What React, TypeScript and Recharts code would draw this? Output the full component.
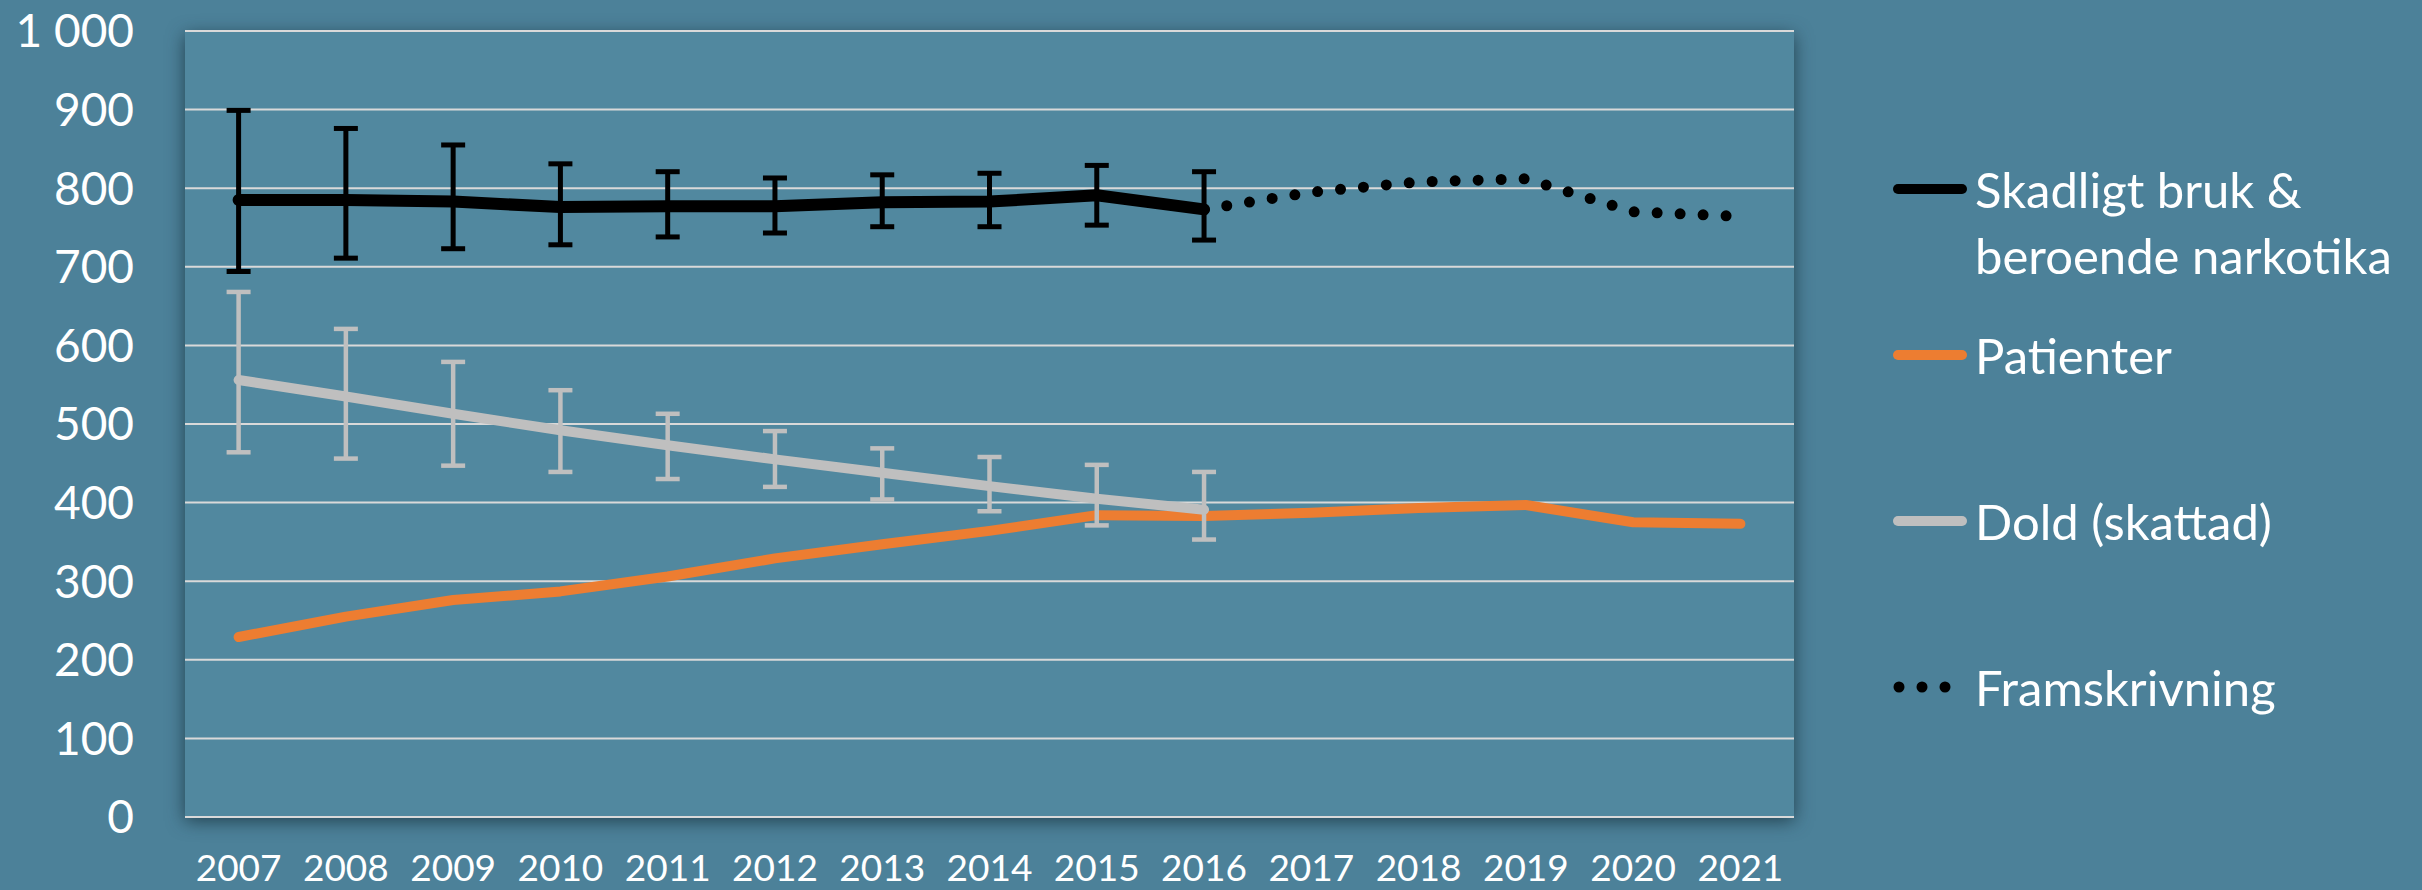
import { CartesianGrid, ErrorBar, Line, LineChart, XAxis, YAxis } from 'recharts'

// Missbruk av narkotika: uppskattat antal, patienter, dold grupp och framskrivning

const YEARS = ['2007', '2008', '2009', '2010', '2011', '2012', '2013', '2014', '2015', '2016', '2017', '2018', '2019', '2020', '2021']

// Skadligt bruk & beroende narkotika (2007–2016) with CI
const SKADLIGT = [785, 785, 783, 776, 777, 777, 782, 783, 791, 773]
const SKADLIGT_LOW = [694, 711, 723, 728, 738, 743, 751, 751, 753, 734]
const SKADLIGT_HIGH = [899, 876, 855, 831, 821, 813, 817, 819, 829, 821]

// Patienter (2007–2021)
const PATIENTER = [229, 255, 276, 287, 306, 329, 347, 364, 384, 383, 387, 393, 397, 375, 373]

// Dold (skattad) (2007–2016) with CI
const DOLD = [556, 535, 513, 492, 473, 455, 438, 421, 405, 391]
const DOLD_LOW = [464, 456, 447, 439, 430, 420, 404, 389, 371, 353]
const DOLD_HIGH = [668, 621, 579, 543, 513, 491, 469, 458, 448, 439]

// Framskrivning (2016–2021)
const FRAM_START = 9
const FRAMSKRIVNING = [773, 795, 808, 812, 770, 764]

const Y_TICKS = [0, 100, 200, 300, 400, 500, 600, 700, 800, 900, 1000]

const LEGEND_ITEMS = [
  { label: ['Skadligt bruk &', 'beroende narkotika'], color: '#000000', dotted: false, gap: 0 },
  { label: ['Patienter'], color: '#ED7D31', dotted: false, gap: 34 },
  { label: ['Dold (skattad)'], color: '#BFBFBF', dotted: false, gap: 100 },
  { label: ['Framskrivning'], color: '#000000', dotted: true, gap: 100 },
]

const FONT = 'Lato, "Open Sans", sans-serif'
const PAGE_BG = '#4c8199'
const PLOT_BG = '#51889f'
const GRID = '#d9d9d9'

const data = YEARS.map((year, i) => {
  const s = i < SKADLIGT.length ? SKADLIGT[i] : null
  const d = i < DOLD.length ? DOLD[i] : null
  const f = i >= FRAM_START ? FRAMSKRIVNING[i - FRAM_START] : null
  return {
    year,
    skadligt: s,
    skadligtErr: s == null ? null : [s - SKADLIGT_LOW[i], SKADLIGT_HIGH[i] - s],
    patienter: PATIENTER[i],
    dold: d,
    doldErr: d == null ? null : [d - DOLD_LOW[i], DOLD_HIGH[i] - d],
    fram: f,
  }
})

const fmtThousands = (v: number) => (v >= 1000 ? `${Math.floor(v / 1000)} ${String(v % 1000).padStart(3, '0')}` : String(v))

function LegendBox() {
  return (
    <div
      style={{
        position: 'absolute',
        left: 1893,
        top: 156,
        fontFamily: FONT,
        fontSize: 49,
        color: '#fff',
        lineHeight: '66px',
      }}
    >
      {LEGEND_ITEMS.map((item) => (
        <div key={item.label[0]} style={{ display: 'flex', marginTop: item.gap }}>
          <div style={{ width: 82, height: 66, display: 'flex', alignItems: 'center' }}>
            {item.dotted ? (
              <svg width={60} height={12}>
                {[0, 1, 2].map((k) => (
                  <circle key={k} cx={6 + k * 23} cy={6} r={5.5} fill={item.color} />
                ))}
              </svg>
            ) : (
              <div style={{ width: 74, height: 10, borderRadius: 5, background: item.color }} />
            )}
          </div>
          <div>
            {item.label.map((l) => (
              <div key={l} style={{ whiteSpace: 'nowrap' }}>{l}</div>
            ))}
          </div>
        </div>
      ))}
    </div>
  )
}

export default function App() {
  return (
    <div style={{ width: 2422, height: 890, background: PAGE_BG, position: 'relative', overflow: 'hidden' }}>
      <style>{`
        body { margin: 0; }
        .recharts-cartesian-grid-bg { filter: drop-shadow(0px 4px 9px rgba(10, 30, 40, 0.65)); }
      `}</style>
      <LineChart width={2422} height={890} data={data} margin={{ top: 31, right: 628, bottom: 0, left: 0 }}>
        <CartesianGrid vertical={false} stroke={GRID} strokeWidth={2} fill={PLOT_BG} fillOpacity={1} />
        <XAxis
          dataKey="year"
          height={73}
          padding={{ left: 53.6, right: 53.6 }}
          tick={{ fill: '#fff', fontSize: 37, fontFamily: FONT }}
          tickLine={false}
          tickSize={0}
          tickMargin={38}
          axisLine={{ stroke: GRID, strokeWidth: 2 }}
          interval={0}
        />
        <YAxis
          width={185}
          domain={[0, 1000]}
          ticks={Y_TICKS}
          tickFormatter={fmtThousands}
          tick={{ fill: '#fff', fontSize: 46, fontFamily: FONT }}
          tickLine={false}
          tickSize={0}
          tickMargin={51}
          axisLine={false}
          interval={0}
        />
        <Line
          dataKey="patienter"
          stroke="#ED7D31"
          strokeWidth={10}
          strokeLinecap="round"
          strokeLinejoin="round"
          dot={false}
          activeDot={false}
          isAnimationActive={false}
        />
        <Line
          dataKey="dold"
          stroke="#BFBFBF"
          strokeWidth={10}
          strokeLinecap="round"
          strokeLinejoin="round"
          dot={false}
          activeDot={false}
          isAnimationActive={false}
        >
          <ErrorBar dataKey="doldErr" width={12} strokeWidth={4.5} stroke="#BFBFBF" direction="y" />
        </Line>
        <Line
          dataKey="skadligt"
          stroke="#000000"
          strokeWidth={12}
          strokeLinecap="round"
          strokeLinejoin="round"
          dot={false}
          activeDot={false}
          isAnimationActive={false}
        >
          <ErrorBar dataKey="skadligtErr" width={12} strokeWidth={5} stroke="#000000" direction="y" />
        </Line>
        <Line
          dataKey="fram"
          stroke="#000000"
          strokeWidth={11}
          strokeDasharray="0 23"
          strokeLinecap="round"
          dot={false}
          activeDot={false}
          isAnimationActive={false}
        />
      </LineChart>
      <LegendBox />
    </div>
  )
}
